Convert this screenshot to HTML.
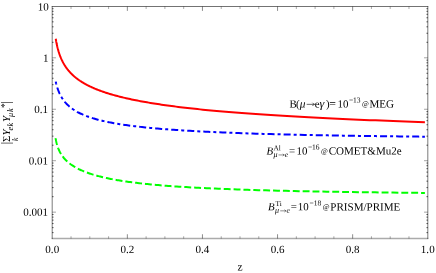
<!DOCTYPE html>
<html><head><meta charset="utf-8"><title>plot</title>
<style>html,body{margin:0;padding:0;background:#fff;}svg{display:block;position:absolute;left:0;top:0;}svg{will-change:transform;opacity:0.999;}text{font-family:"Liberation Serif",serif;}</style>
</head><body>
<svg width="436" height="273" viewBox="0 0 436 273">
<rect x="0" y="0" width="436" height="273" fill="#fff"/>
<g stroke="#000" fill="none">
<path d="M52.25 6.2 V239.05" stroke-width="1.3" stroke-opacity="0.4"/>
<path d="M427.75 6.2 V239.05" stroke-width="1.3" stroke-opacity="0.4"/>
<path d="M51.75 6.5 H428.25" stroke-width="1.0" stroke-opacity="0.55"/>
<path d="M51.75 238.55 H428.25" stroke-width="1.4" stroke-opacity="0.33"/>
<path d="M71.03 238.55 v-2.3 M71.03 6.5 v2.5" stroke-width="1.0" stroke-opacity="0.33"/>
<path d="M89.80 238.55 v-2.3 M89.80 6.5 v2.5" stroke-width="1.0" stroke-opacity="0.33"/>
<path d="M108.58 238.55 v-2.3 M108.58 6.5 v2.5" stroke-width="1.0" stroke-opacity="0.33"/>
<path d="M127.35 238.55 v-4.3 M127.35 6.5 v4.4" stroke-width="0.9" stroke-opacity="0.5"/>
<path d="M146.12 238.55 v-2.3 M146.12 6.5 v2.5" stroke-width="1.0" stroke-opacity="0.33"/>
<path d="M164.90 238.55 v-2.3 M164.90 6.5 v2.5" stroke-width="1.0" stroke-opacity="0.33"/>
<path d="M183.68 238.55 v-2.3 M183.68 6.5 v2.5" stroke-width="1.0" stroke-opacity="0.33"/>
<path d="M202.45 238.55 v-4.3 M202.45 6.5 v4.4" stroke-width="0.9" stroke-opacity="0.5"/>
<path d="M221.22 238.55 v-2.3 M221.22 6.5 v2.5" stroke-width="1.0" stroke-opacity="0.33"/>
<path d="M240.00 238.55 v-2.3 M240.00 6.5 v2.5" stroke-width="1.0" stroke-opacity="0.33"/>
<path d="M258.77 238.55 v-2.3 M258.77 6.5 v2.5" stroke-width="1.0" stroke-opacity="0.33"/>
<path d="M277.55 238.55 v-4.3 M277.55 6.5 v4.4" stroke-width="0.9" stroke-opacity="0.5"/>
<path d="M296.33 238.55 v-2.3 M296.33 6.5 v2.5" stroke-width="1.0" stroke-opacity="0.33"/>
<path d="M315.10 238.55 v-2.3 M315.10 6.5 v2.5" stroke-width="1.0" stroke-opacity="0.33"/>
<path d="M333.88 238.55 v-2.3 M333.88 6.5 v2.5" stroke-width="1.0" stroke-opacity="0.33"/>
<path d="M352.65 238.55 v-4.3 M352.65 6.5 v4.4" stroke-width="0.9" stroke-opacity="0.5"/>
<path d="M371.43 238.55 v-2.3 M371.43 6.5 v2.5" stroke-width="1.0" stroke-opacity="0.33"/>
<path d="M390.20 238.55 v-2.3 M390.20 6.5 v2.5" stroke-width="1.0" stroke-opacity="0.33"/>
<path d="M408.98 238.55 v-2.3 M408.98 6.5 v2.5" stroke-width="1.0" stroke-opacity="0.33"/>
<path d="M52.05 232.62 h1.5 M427.95 232.62 h-1.5" stroke-width="0.9" stroke-opacity="0.7"/>
<path d="M52.05 227.64 h1.5 M427.95 227.64 h-1.5" stroke-width="0.9" stroke-opacity="0.7"/>
<path d="M52.05 223.56 h1.5 M427.95 223.56 h-1.5" stroke-width="0.9" stroke-opacity="0.7"/>
<path d="M52.05 220.12 h1.5 M427.95 220.12 h-1.5" stroke-width="0.9" stroke-opacity="0.7"/>
<path d="M52.05 217.14 h1.5 M427.95 217.14 h-1.5" stroke-width="0.9" stroke-opacity="0.7"/>
<path d="M52.05 214.50 h1.5 M427.95 214.50 h-1.5" stroke-width="0.9" stroke-opacity="0.7"/>
<path d="M52.25 212.15 h3.7 M427.75 212.15 h-3.7" stroke-width="1.0" stroke-opacity="0.36"/>
<path d="M52.05 196.66 h1.5 M427.95 196.66 h-1.5" stroke-width="0.9" stroke-opacity="0.7"/>
<path d="M52.05 187.60 h1.5 M427.95 187.60 h-1.5" stroke-width="0.9" stroke-opacity="0.7"/>
<path d="M52.05 181.17 h1.5 M427.95 181.17 h-1.5" stroke-width="0.9" stroke-opacity="0.7"/>
<path d="M52.05 176.19 h1.5 M427.95 176.19 h-1.5" stroke-width="0.9" stroke-opacity="0.7"/>
<path d="M52.05 172.11 h1.5 M427.95 172.11 h-1.5" stroke-width="0.9" stroke-opacity="0.7"/>
<path d="M52.05 168.67 h1.5 M427.95 168.67 h-1.5" stroke-width="0.9" stroke-opacity="0.7"/>
<path d="M52.05 165.69 h1.5 M427.95 165.69 h-1.5" stroke-width="0.9" stroke-opacity="0.7"/>
<path d="M52.05 163.05 h1.5 M427.95 163.05 h-1.5" stroke-width="0.9" stroke-opacity="0.7"/>
<path d="M52.25 160.70 h3.7 M427.75 160.70 h-3.7" stroke-width="1.0" stroke-opacity="0.36"/>
<path d="M52.05 145.21 h1.5 M427.95 145.21 h-1.5" stroke-width="0.9" stroke-opacity="0.7"/>
<path d="M52.05 136.15 h1.5 M427.95 136.15 h-1.5" stroke-width="0.9" stroke-opacity="0.7"/>
<path d="M52.05 129.72 h1.5 M427.95 129.72 h-1.5" stroke-width="0.9" stroke-opacity="0.7"/>
<path d="M52.05 124.74 h1.5 M427.95 124.74 h-1.5" stroke-width="0.9" stroke-opacity="0.7"/>
<path d="M52.05 120.66 h1.5 M427.95 120.66 h-1.5" stroke-width="0.9" stroke-opacity="0.7"/>
<path d="M52.05 117.22 h1.5 M427.95 117.22 h-1.5" stroke-width="0.9" stroke-opacity="0.7"/>
<path d="M52.05 114.24 h1.5 M427.95 114.24 h-1.5" stroke-width="0.9" stroke-opacity="0.7"/>
<path d="M52.05 111.60 h1.5 M427.95 111.60 h-1.5" stroke-width="0.9" stroke-opacity="0.7"/>
<path d="M52.25 109.25 h3.7 M427.75 109.25 h-3.7" stroke-width="1.0" stroke-opacity="0.36"/>
<path d="M52.05 93.76 h1.5 M427.95 93.76 h-1.5" stroke-width="0.9" stroke-opacity="0.7"/>
<path d="M52.05 84.70 h1.5 M427.95 84.70 h-1.5" stroke-width="0.9" stroke-opacity="0.7"/>
<path d="M52.05 78.27 h1.5 M427.95 78.27 h-1.5" stroke-width="0.9" stroke-opacity="0.7"/>
<path d="M52.05 73.29 h1.5 M427.95 73.29 h-1.5" stroke-width="0.9" stroke-opacity="0.7"/>
<path d="M52.05 69.21 h1.5 M427.95 69.21 h-1.5" stroke-width="0.9" stroke-opacity="0.7"/>
<path d="M52.05 65.77 h1.5 M427.95 65.77 h-1.5" stroke-width="0.9" stroke-opacity="0.7"/>
<path d="M52.05 62.79 h1.5 M427.95 62.79 h-1.5" stroke-width="0.9" stroke-opacity="0.7"/>
<path d="M52.05 60.15 h1.5 M427.95 60.15 h-1.5" stroke-width="0.9" stroke-opacity="0.7"/>
<path d="M52.25 57.80 h3.7 M427.75 57.80 h-3.7" stroke-width="1.0" stroke-opacity="0.36"/>
<path d="M52.05 42.31 h1.5 M427.95 42.31 h-1.5" stroke-width="0.9" stroke-opacity="0.7"/>
<path d="M52.05 33.25 h1.5 M427.95 33.25 h-1.5" stroke-width="0.9" stroke-opacity="0.7"/>
<path d="M52.05 26.82 h1.5 M427.95 26.82 h-1.5" stroke-width="0.9" stroke-opacity="0.7"/>
<path d="M52.05 21.84 h1.5 M427.95 21.84 h-1.5" stroke-width="0.9" stroke-opacity="0.7"/>
<path d="M52.05 17.76 h1.5 M427.95 17.76 h-1.5" stroke-width="0.9" stroke-opacity="0.7"/>
<path d="M52.05 14.32 h1.5 M427.95 14.32 h-1.5" stroke-width="0.9" stroke-opacity="0.7"/>
<path d="M52.05 11.34 h1.5 M427.95 11.34 h-1.5" stroke-width="0.9" stroke-opacity="0.7"/>
<path d="M52.05 8.70 h1.5 M427.95 8.70 h-1.5" stroke-width="0.9" stroke-opacity="0.7"/>
</g>
<path d="M55.75 38.74 L55.82 39.15 L55.89 39.57 L55.96 39.98 L56.03 40.40 L56.10 40.81 L56.17 41.22 L56.25 41.63 L56.32 42.04 L56.40 42.45 L56.48 42.85 L56.56 43.26 L56.64 43.66 L56.72 44.07 L56.81 44.47 L56.89 44.87 L56.98 45.28 L57.07 45.68 L57.16 46.08 L57.25 46.48 L57.35 46.87 L57.44 47.27 L57.54 47.67 L57.64 48.06 L57.74 48.46 L57.85 48.85 L57.95 49.24 L58.06 49.64 L58.17 50.03 L58.28 50.42 L58.39 50.81 L58.50 51.20 L58.62 51.58 L58.74 51.97 L58.86 52.36 L58.98 52.74 L59.11 53.13 L59.23 53.51 L59.36 53.90 L59.50 54.28 L59.63 54.66 L59.77 55.04 L59.91 55.42 L60.05 55.80 L60.19 56.18 L60.34 56.56 L60.49 56.93 L60.64 57.31 L60.79 57.69 L60.95 58.06 L61.11 58.44 L61.28 58.81 L61.44 59.18 L61.61 59.55 L61.78 59.93 L61.96 60.30 L62.14 60.67 L62.32 61.04 L62.50 61.41 L62.69 61.77 L62.88 62.14 L63.08 62.51 L63.28 62.87 L63.48 63.24 L63.69 63.60 L63.89 63.97 L64.11 64.33 L64.32 64.69 L64.55 65.06 L64.77 65.42 L65.00 65.78 L65.23 66.14 L65.47 66.50 L65.71 66.86 L65.96 67.21 L66.21 67.57 L66.46 67.93 L66.72 68.28 L66.98 68.64 L67.25 69.00 L67.53 69.35 L67.80 69.70 L68.09 70.06 L68.37 70.41 L68.67 70.76 L68.97 71.11 L69.27 71.46 L69.58 71.81 L69.90 72.16 L70.22 72.51 L70.54 72.86 L70.87 73.21 L71.21 73.56 L71.56 73.90 L71.91 74.25 L72.26 74.59 L72.63 74.94 L73.00 75.28 L73.37 75.63 L73.76 75.97 L74.15 76.31 L74.54 76.65 L74.95 76.99 L75.36 77.33 L75.78 77.67 L76.20 78.01 L76.64 78.35 L77.08 78.69 L77.53 79.03 L77.98 79.37 L78.45 79.70 L78.92 80.04 L79.41 80.37 L79.90 80.71 L80.40 81.04 L80.91 81.38 L81.42 81.71 L81.95 82.04 L82.49 82.37 L83.03 82.70 L83.59 83.03 L84.16 83.36 L84.73 83.69 L85.32 84.02 L85.92 84.35 L86.52 84.68 L87.14 85.01 L87.77 85.33 L88.41 85.66 L89.06 85.98 L89.73 86.31 L90.40 86.63 L91.09 86.96 L91.79 87.28 L92.51 87.60 L93.23 87.92 L93.97 88.25 L94.72 88.57 L95.49 88.89 L96.27 89.21 L97.06 89.52 L97.87 89.84 L98.69 90.16 L99.53 90.48 L100.38 90.79 L101.24 91.11 L102.13 91.42 L103.02 91.74 L103.94 92.05 L104.87 92.37 L105.82 92.68 L106.78 92.99 L107.76 93.30 L108.76 93.61 L109.78 93.92 L110.81 94.23 L111.87 94.54 L112.94 94.85 L114.03 95.16 L115.14 95.47 L116.28 95.77 L117.43 96.08 L118.60 96.38 L119.79 96.69 L121.01 96.99 L122.24 97.29 L123.50 97.60 L124.78 97.90 L126.09 98.20 L127.42 98.50 L128.77 98.80 L130.14 99.10 L131.54 99.40 L132.97 99.69 L134.42 99.99 L135.89 100.29 L137.40 100.58 L138.93 100.88 L140.49 101.17 L142.07 101.47 L143.68 101.76 L145.33 102.05 L147.00 102.34 L148.70 102.63 L150.43 102.92 L152.20 103.21 L153.99 103.50 L155.82 103.79 L157.68 104.07 L159.57 104.36 L161.50 104.64 L163.46 104.93 L165.46 105.21 L167.49 105.50 L169.56 105.78 L171.67 106.06 L173.81 106.34 L176.00 106.62 L178.22 106.90 L180.48 107.18 L182.78 107.45 L185.13 107.73 L187.51 108.01 L189.94 108.28 L192.41 108.55 L194.93 108.83 L197.49 109.10 L200.09 109.37 L202.75 109.64 L205.45 109.91 L208.20 110.18 L211.00 110.45 L213.85 110.72 L216.75 110.98 L219.70 111.25 L222.70 111.51 L225.76 111.77 L228.87 112.04 L232.04 112.30 L235.27 112.56 L238.55 112.82 L241.90 113.08 L245.30 113.33 L248.76 113.59 L252.29 113.85 L255.88 114.10 L259.53 114.36 L263.25 114.61 L267.03 114.86 L270.88 115.11 L274.81 115.36 L278.80 115.61 L282.86 115.86 L287.00 116.11 L291.21 116.35 L295.50 116.60 L299.86 116.84 L304.30 117.08 L308.82 117.32 L313.42 117.56 L318.11 117.80 L322.87 118.04 L327.73 118.28 L332.67 118.51 L337.70 118.75 L342.81 118.98 L348.03 119.22 L353.33 119.45 L358.73 119.68 L364.22 119.91 L369.82 120.13 L375.51 120.36 L381.31 120.59 L387.21 120.81 L393.22 121.03 L399.33 121.26 L405.55 121.48 L411.89 121.70 L418.34 121.91 L424.90 122.13" stroke="#ff0000" stroke-width="2" fill="none" stroke-linecap="butt" stroke-linejoin="round"/>
<path d="M55.75 81.64 L55.82 81.94 L55.89 82.25 L55.96 82.55 L56.03 82.85 L56.10 83.15 L56.17 83.45 L56.25 83.75 L56.32 84.06 L56.40 84.36 L56.48 84.66 L56.56 84.96 L56.64 85.26 L56.72 85.56 L56.81 85.86 L56.89 86.16 L56.98 86.46 L57.07 86.76 L57.16 87.06 L57.25 87.35 L57.35 87.65 L57.44 87.95 L57.54 88.25 L57.64 88.55 L57.74 88.84 L57.85 89.14 L57.95 89.44 L58.06 89.73 L58.17 90.03 L58.28 90.33 L58.39 90.62 L58.50 90.92 L58.62 91.21 L58.74 91.51 L58.86 91.80 L58.98 92.09 L59.11 92.39 L59.23 92.68 L59.36 92.97 L59.50 93.26 L59.63 93.56 L59.77 93.85 L59.91 94.14 L60.05 94.43 L60.19 94.72 L60.34 95.01 L60.49 95.30 L60.64 95.58 L60.79 95.87 L60.95 96.16 L61.11 96.45 L61.28 96.73 L61.44 97.02 L61.61 97.30 L61.78 97.59 L61.96 97.87 L62.14 98.16 L62.32 98.44 L62.50 98.72 L62.69 99.01 L62.88 99.29 L63.08 99.57 L63.28 99.85 L63.48 100.13 L63.69 100.41 L63.89 100.69 L64.11 100.97 L64.32 101.24 L64.55 101.52 L64.77 101.80 L65.00 102.07 L65.23 102.35 L65.47 102.62 L65.71 102.90 L65.96 103.17 L66.21 103.44 L66.46 103.71 L66.72 103.99 L66.98 104.26 L67.25 104.53 L67.53 104.79 L67.80 105.06 L68.09 105.33 L68.37 105.60 L68.67 105.86 L68.97 106.13 L69.27 106.39 L69.58 106.66 L69.90 106.92 L70.22 107.18 L70.54 107.45 L70.87 107.71 L71.21 107.97 L71.56 108.23 L71.91 108.49 L72.26 108.74 L72.63 109.00 L73.00 109.26 L73.37 109.51 L73.76 109.77 L74.15 110.02 L74.54 110.28 L74.95 110.53 L75.36 110.78 L75.78 111.03 L76.20 111.28 L76.64 111.53 L77.08 111.78 L77.53 112.02 L77.98 112.27 L78.45 112.52 L78.92 112.76 L79.41 113.00 L79.90 113.25 L80.40 113.49 L80.91 113.73 L81.42 113.97 L81.95 114.21 L82.49 114.45 L83.03 114.69 L83.59 114.92 L84.16 115.16 L84.73 115.39 L85.32 115.63 L85.92 115.86 L86.52 116.09 L87.14 116.32 L87.77 116.55 L88.41 116.78 L89.06 117.01 L89.73 117.24 L90.40 117.46 L91.09 117.69 L91.79 117.91 L92.51 118.13 L93.23 118.36 L93.97 118.58 L94.72 118.80 L95.49 119.02 L96.27 119.23 L97.06 119.45 L97.87 119.67 L98.69 119.88 L99.53 120.10 L100.38 120.31 L101.24 120.52 L102.13 120.73 L103.02 120.94 L103.94 121.15 L104.87 121.36 L105.82 121.56 L106.78 121.77 L107.76 121.97 L108.76 122.17 L109.78 122.38 L110.81 122.58 L111.87 122.78 L112.94 122.98 L114.03 123.17 L115.14 123.37 L116.28 123.57 L117.43 123.76 L118.60 123.95 L119.79 124.14 L121.01 124.33 L122.24 124.52 L123.50 124.71 L124.78 124.90 L126.09 125.09 L127.42 125.27 L128.77 125.46 L130.14 125.64 L131.54 125.82 L132.97 126.00 L134.42 126.18 L135.89 126.36 L137.40 126.53 L138.93 126.71 L140.49 126.88 L142.07 127.06 L143.68 127.23 L145.33 127.40 L147.00 127.57 L148.70 127.74 L150.43 127.90 L152.20 128.07 L153.99 128.23 L155.82 128.40 L157.68 128.56 L159.57 128.72 L161.50 128.88 L163.46 129.04 L165.46 129.20 L167.49 129.35 L169.56 129.51 L171.67 129.66 L173.81 129.81 L176.00 129.96 L178.22 130.11 L180.48 130.26 L182.78 130.41 L185.13 130.55 L187.51 130.70 L189.94 130.84 L192.41 130.98 L194.93 131.12 L197.49 131.26 L200.09 131.40 L202.75 131.54 L205.45 131.67 L208.20 131.80 L211.00 131.94 L213.85 132.07 L216.75 132.20 L219.70 132.33 L222.70 132.45 L225.76 132.58 L228.87 132.70 L232.04 132.83 L235.27 132.95 L238.55 133.07 L241.90 133.19 L245.30 133.31 L248.76 133.42 L252.29 133.54 L255.88 133.65 L259.53 133.76 L263.25 133.88 L267.03 133.98 L270.88 134.09 L274.81 134.20 L278.80 134.31 L282.86 134.41 L287.00 134.51 L291.21 134.61 L295.50 134.71 L299.86 134.81 L304.30 134.91 L308.82 135.00 L313.42 135.10 L318.11 135.19 L322.87 135.28 L327.73 135.37 L332.67 135.46 L337.70 135.55 L342.81 135.63 L348.03 135.72 L353.33 135.80 L358.73 135.88 L364.22 135.96 L369.82 136.04 L375.51 136.12 L381.31 136.20 L387.21 136.27 L393.22 136.34 L399.33 136.41 L405.55 136.48 L411.89 136.55 L418.34 136.62 L424.90 136.69" stroke="#0000ff" stroke-width="2" fill="none" stroke-dasharray="7.03 3.015 3.015 3.015" stroke-dashoffset="10.045"/>
<path d="M55.58 138.16 L55.64 138.53 L55.71 138.90 L55.78 139.27 L55.85 139.63 L55.92 139.99 L55.99 140.34 L56.06 140.70 L56.13 141.05 L56.21 141.39 L56.28 141.74 L56.36 142.07 L56.44 142.41 L56.52 142.75 L56.60 143.08 L56.69 143.40 L56.77 143.73 L56.86 144.05 L56.94 144.37 L57.03 144.69 L57.12 145.00 L57.22 145.32 L57.31 145.63 L57.41 145.94 L57.51 146.24 L57.61 146.54 L57.71 146.85 L57.81 147.15 L57.92 147.44 L58.02 147.74 L58.13 148.03 L58.24 148.33 L58.36 148.62 L58.47 148.90 L58.59 149.19 L58.71 149.48 L58.83 149.76 L58.95 150.04 L59.08 150.32 L59.21 150.60 L59.34 150.88 L59.47 151.16 L59.60 151.43 L59.74 151.71 L59.88 151.98 L60.03 152.25 L60.17 152.52 L60.32 152.79 L60.47 153.06 L60.62 153.33 L60.78 153.60 L60.94 153.86 L61.10 154.13 L61.26 154.39 L61.43 154.65 L61.60 154.92 L61.78 155.18 L61.95 155.44 L62.13 155.70 L62.32 155.96 L62.50 156.22 L62.69 156.47 L62.89 156.73 L63.08 156.99 L63.28 157.24 L63.49 157.50 L63.70 157.75 L63.91 158.01 L64.12 158.26 L64.34 158.51 L64.57 158.77 L64.79 159.02 L65.03 159.27 L65.26 159.52 L65.50 159.77 L65.75 160.02 L65.99 160.27 L66.25 160.52 L66.51 160.77 L66.77 161.02 L67.04 161.27 L67.31 161.52 L67.58 161.76 L67.87 162.01 L68.15 162.26 L68.45 162.50 L68.74 162.75 L69.05 163.00 L69.36 163.24 L69.67 163.49 L69.99 163.73 L70.32 163.98 L70.65 164.22 L70.98 164.47 L71.33 164.71 L71.68 164.95 L72.03 165.20 L72.40 165.44 L72.77 165.68 L73.14 165.92 L73.52 166.16 L73.91 166.41 L74.31 166.65 L74.71 166.89 L75.13 167.13 L75.54 167.37 L75.97 167.61 L76.40 167.85 L76.85 168.09 L77.30 168.32 L77.75 168.56 L78.22 168.80 L78.69 169.04 L79.18 169.28 L79.67 169.51 L80.17 169.75 L80.68 169.98 L81.20 170.22 L81.73 170.45 L82.26 170.69 L82.81 170.92 L83.37 171.16 L83.94 171.39 L84.52 171.62 L85.10 171.85 L85.70 172.08 L86.31 172.32 L86.94 172.55 L87.57 172.77 L88.21 173.00 L88.87 173.23 L89.53 173.46 L90.21 173.69 L90.90 173.91 L91.61 174.14 L92.33 174.37 L93.06 174.59 L93.80 174.81 L94.56 175.04 L95.33 175.26 L96.11 175.48 L96.91 175.70 L97.72 175.92 L98.55 176.14 L99.39 176.36 L100.25 176.58 L101.12 176.80 L102.01 177.01 L102.92 177.23 L103.84 177.44 L104.78 177.65 L105.73 177.87 L106.70 178.08 L107.69 178.29 L108.70 178.50 L109.73 178.71 L110.77 178.91 L111.84 179.12 L112.92 179.33 L114.02 179.53 L115.15 179.73 L116.29 179.94 L117.45 180.14 L118.64 180.34 L119.84 180.54 L121.07 180.74 L122.32 180.93 L123.59 181.13 L124.89 181.32 L126.21 181.52 L127.55 181.71 L128.92 181.90 L130.31 182.09 L131.73 182.28 L133.17 182.46 L134.64 182.65 L136.14 182.83 L137.66 183.02 L139.21 183.20 L140.79 183.38 L142.40 183.56 L144.03 183.73 L145.70 183.91 L147.39 184.08 L149.12 184.26 L150.88 184.43 L152.67 184.60 L154.49 184.77 L156.35 184.94 L158.23 185.10 L160.16 185.27 L162.11 185.43 L164.11 185.59 L166.14 185.75 L168.20 185.91 L170.31 186.07 L172.45 186.22 L174.63 186.38 L176.85 186.53 L179.11 186.68 L181.41 186.83 L183.75 186.98 L186.13 187.12 L188.56 187.27 L191.03 187.41 L193.55 187.55 L196.11 187.69 L198.72 187.83 L201.38 187.97 L204.08 188.10 L206.83 188.23 L209.64 188.36 L212.49 188.50 L215.39 188.62 L218.35 188.75 L221.36 188.88 L224.43 189.00 L227.55 189.12 L230.73 189.24 L233.96 189.36 L237.25 189.48 L240.61 189.59 L244.02 189.71 L247.50 189.82 L251.03 189.93 L254.64 190.04 L258.30 190.15 L262.04 190.25 L265.84 190.36 L269.71 190.46 L273.65 190.56 L277.66 190.66 L281.75 190.76 L285.91 190.86 L290.14 190.95 L294.45 191.05 L298.84 191.14 L303.31 191.23 L307.86 191.32 L312.49 191.41 L317.20 191.50 L322.00 191.58 L326.89 191.67 L331.86 191.75 L336.93 191.83 L342.09 191.91 L347.34 191.99 L352.68 192.07 L358.12 192.15 L363.67 192.22 L369.31 192.30 L375.05 192.37 L380.90 192.44 L386.85 192.51 L392.91 192.58 L399.08 192.65 L405.36 192.72 L411.76 192.79 L418.27 192.85 L424.90 192.92" stroke="#00ff00" stroke-width="2" fill="none" stroke-dasharray="6.91 2.96"/>
<g font-family="Liberation Serif, serif" font-size="11.05" fill="#000">
<text transform="rotate(0.03 40 6.3)" x="48.75" y="10.55" text-anchor="end">10</text>
<text transform="rotate(0.03 40 57.8)" x="48.45" y="61.75" text-anchor="end">1</text>
<text transform="rotate(0.03 40 109.2)" x="48.10" y="112.95" text-anchor="end">0.1</text>
<text transform="rotate(0.03 40 160.7)" x="48.10" y="164.40" text-anchor="end">0.01</text>
<text transform="rotate(0.03 40 212.2)" x="48.10" y="215.85" text-anchor="end">0.001</text>
<text transform="rotate(0.03 52.2 250)" x="52.25" y="253.1" text-anchor="middle">0.0</text>
<text transform="rotate(0.03 127.4 250)" x="127.35" y="253.1" text-anchor="middle">0.2</text>
<text transform="rotate(0.03 202.5 250)" x="202.45" y="253.1" text-anchor="middle">0.4</text>
<text transform="rotate(0.03 277.6 250)" x="277.55" y="253.1" text-anchor="middle">0.6</text>
<text transform="rotate(0.03 352.7 250)" x="352.65" y="253.1" text-anchor="middle">0.8</text>
<text transform="rotate(0.03 427.8 250)" x="427.75" y="253.1" text-anchor="middle">1.0</text>
<text transform="rotate(0.03 240 268)" x="240.1" y="270.6" text-anchor="middle" font-size="11.5">z</text>
</g>
<g font-family="Liberation Serif, serif" font-size="10.9" fill="#000">
<text transform="rotate(0.03 340 104)" y="107.45"><tspan x="289.5">B</tspan><tspan x="296.1">(</tspan><tspan x="299.7" font-style="italic" font-size="11.4">μ</tspan><tspan x="314.8">e</tspan><tspan x="319.6" font-style="italic" font-size="12.2">γ</tspan><tspan x="325.9">)</tspan><tspan x="329.2" font-size="11.8">=</tspan><tspan x="337.6" font-size="10.9">10</tspan><tspan x="348.9" dy="-4.9" font-size="7.5">−13</tspan><tspan x="361.9" dy="3.8" font-size="7.4">@</tspan><tspan x="369.4" dy="1.1" font-size="11.05">MEG</tspan></text>
<path d="M306.70 104.35 H314.30" stroke="#000" stroke-width="0.6" fill="none" stroke-opacity="1"/><path d="M312.40 102.75 Q313.39 104.05 314.60 104.35 Q313.39 104.65 312.40 105.95" stroke="#000" stroke-width="0.6" fill="none" stroke-opacity="1" stroke-linejoin="round"/>
<text transform="rotate(0.03 335 151.5)" y="154.5"><tspan x="266.5" font-style="italic">B</tspan><tspan x="273.5" dy="-4.3" font-size="7.3">Al</tspan><tspan x="273.4" dy="6.8" font-size="8.0" font-style="italic">μ</tspan><tspan x="284.75" font-size="7.6" font-style="italic">e</tspan><tspan x="288.9" dy="-2.5">=</tspan><tspan x="296.5">10</tspan><tspan x="307.9" dy="-4.9" font-size="7.5">−16</tspan><tspan x="320.9" dy="3.8" font-size="7.4">@</tspan><tspan x="328.7" dy="1.1" font-size="11.05">COMET&amp;Mu2e</tspan></text>
<path d="M278.50 154.95 H284.10" stroke="#000" stroke-width="0.45" fill="none" stroke-opacity="1"/><path d="M282.80 153.80 Q283.52 154.65 284.40 154.95 Q283.52 155.25 282.80 156.10" stroke="#000" stroke-width="0.45" fill="none" stroke-opacity="1" stroke-linejoin="round"/>
<text transform="rotate(0.03 335 207.4)" y="210.4"><tspan x="268.1" font-style="italic">B</tspan><tspan x="275.5" dy="-4.3" font-size="7.3">Ti</tspan><tspan x="275.1" dy="6.8" font-size="8.0" font-style="italic">μ</tspan><tspan x="286.45" font-size="7.6" font-style="italic">e</tspan><tspan x="290.8" dy="-2.5">=</tspan><tspan x="297.7">10</tspan><tspan x="309.5" dy="-4.9" font-size="7.5">−18</tspan><tspan x="322.8" dy="3.8" font-size="7.4">@</tspan><tspan x="330.3" dy="1.1" font-size="11.05">PRISM/PRIME</tspan></text>
<path d="M280.20 210.85 H285.80" stroke="#000" stroke-width="0.45" fill="none" stroke-opacity="1"/><path d="M284.50 209.70 Q285.22 210.55 286.10 210.85 Q285.22 211.15 284.50 212.00" stroke="#000" stroke-width="0.45" fill="none" stroke-opacity="1" stroke-linejoin="round"/>
<!-- y title -->
<g transform="translate(10 144.2) rotate(-90)">
<text y="0"><tspan x="-0.1" dy="-0.2" font-size="11.9">|</tspan><tspan x="2.2" dy="0.2">Σ</tspan><tspan x="8.6" font-style="italic">Y</tspan><tspan x="13.8" dy="2.9" font-size="8.2" font-style="italic">e</tspan><tspan x="17.6" font-size="8.2" font-style="italic">k</tspan><tspan x="22.3" dy="-2.9" font-style="italic">Y</tspan><tspan x="27.3" dy="2.9" font-size="8.2" font-style="italic">μ</tspan><tspan x="32.3" font-size="8.2" font-style="italic">k</tspan><tspan x="36.2" dy="-4.9" font-size="9.4">*</tspan><tspan x="40.7" dy="1.8" font-size="11.9">|</tspan></text>
<text x="3.2" y="7.6" font-size="7.5" font-style="italic">k</text>
</g>
</g>
</svg>
</body></html>
